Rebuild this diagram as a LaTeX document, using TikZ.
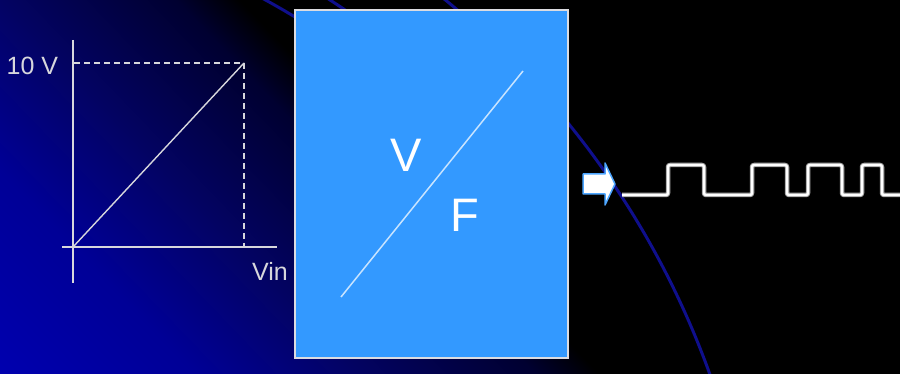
\documentclass[tikz,border=0pt]{standalone}
\usepackage{fontspec}
\setmainfont{Liberation Sans}
\definecolor{bgA}{RGB}{0,0,48}
\definecolor{bgB}{RGB}{3,3,100}
\definecolor{bgC}{RGB}{0,0,150}
\definecolor{bgD}{RGB}{0,0,175}
\definecolor{arcblue}{RGB}{15,15,140}
\definecolor{boxblue}{RGB}{51,153,255}
\definecolor{boxedge}{RGB}{220,220,225}
\definecolor{diagline}{RGB}{200,228,255}
\definecolor{graphline}{RGB}{215,215,220}
\definecolor{glow}{RGB}{77,166,255}
\tikzset{
  arcline/.style={draw=arcblue, line width=3pt},
  vfbox/.style={rectangle, fill=boxblue, draw=boxedge, line width=1.5pt,
    minimum width=273pt, minimum height=348pt, inner sep=0pt},
  bigletter/.style={text=white, font=\fontsize{47}{47}\selectfont, inner sep=0pt},
  glabel/.style={text=graphline, font=\fontsize{25}{25}\selectfont, inner sep=0pt},
  axisline/.style={draw=graphline, line width=1.6pt},
  dashline/.style={draw=graphline, line width=1.6pt, dash pattern=on 6pt off 4pt},
  waveglow/.style={draw=gray!70, line width=4.5pt, rounded corners=2pt, line join=round},
  waveline/.style={draw=white, line width=2.4pt, rounded corners=2pt, line join=round},
  outarrow/.style={fill=white, draw=glow, line width=1.5pt, line join=round}
}
\begin{document}
\begin{tikzpicture}[x=1pt,y=-1pt]
\useasboundingbox (0,0) rectangle (900,374);
% background
\begin{scope}
  \clip (0,0) rectangle (900,374);
  \fill[black] (0,0) rectangle (900,374);
  \begin{scope}[transform canvas={shift={(240,0)}, rotate=223.9}]
    \shade[left color=black, right color=bgA] (0,-1500) rectangle (46,1500);
    \shade[left color=bgA, right color=bgB] (45,-1500) rectangle (176,1500);
    \shade[left color=bgB, right color=bgC] (175,-1500) rectangle (291,1500);
    \shade[left color=bgC, right color=bgD] (290,-1500) rectangle (433,1500);
    \fill[bgD] (432,-1500) rectangle (1200,1500);
  \end{scope}
  % arcs
  \coordinate (arcc) at (-98,664);
  \draw[arcline] (arcc) circle[radius=858];
  \draw[arcline] (arcc) ++(-62:757) arc[start angle=-62, end angle=-50, radius=757];
  \draw[arcline] (arcc) ++(-58:790) arc[start angle=-58, end angle=-52, radius=790];
\end{scope}
% V/F box
\node[vfbox] (vf) at (431.5,184) {};
\coordinate (dA) at (341,297);
\coordinate (dB) at (523,71);
\draw[draw=diagline, line width=1.5pt] (dA) -- (dB);
\node[bigletter, anchor=base] (vlet) at (406.5,172) {V};
\node[bigletter, anchor=base] (flet) at (465,232) {F};
% graph
\coordinate (ytop) at (73,40);
\coordinate (ybot) at (73,283);
\coordinate (xleft) at (62,247);
\coordinate (xright) at (277,247);
\coordinate (orig) at (73,247);
\coordinate (peak) at (244,63);
\coordinate (yref) at (74,63);
\coordinate (xref) at (244,247);
\draw[axisline] (ytop) -- (ybot);
\draw[axisline] (xleft) -- (xright);
\draw[axisline, line width=1.4pt] (orig) -- (peak);
\draw[dashline] (yref) -- (peak);
\draw[dashline] (peak) -- (xref);
\node[glabel, anchor=base west] (ten) at (6.5,75) {10 V};
\node[glabel, anchor=base west] (vin) at (252,280) {Vin};
% output arrow
\draw[outarrow] (583,174) -- (605,174) -- (605,163) -- (615,184) -- (605,205) -- (605,194) -- (583,194) -- cycle;
\coordinate (tip) at (615,184);
\coordinate (wstart) at (622,195);
% square wave
\foreach \st in {waveglow, waveline}{
\draw[\st] (wstart) -- (668,195) -- (668,165) -- (704,165) -- (704,195) -- (752,195) -- (752,165) -- (787,165) -- (787,195) -- (808,195) -- (808,165) -- (842,165) -- (842,195) -- (862,195) -- (862,165) -- (882,165) -- (882,195) -- (904,195);
}
\end{tikzpicture}
\end{document}
